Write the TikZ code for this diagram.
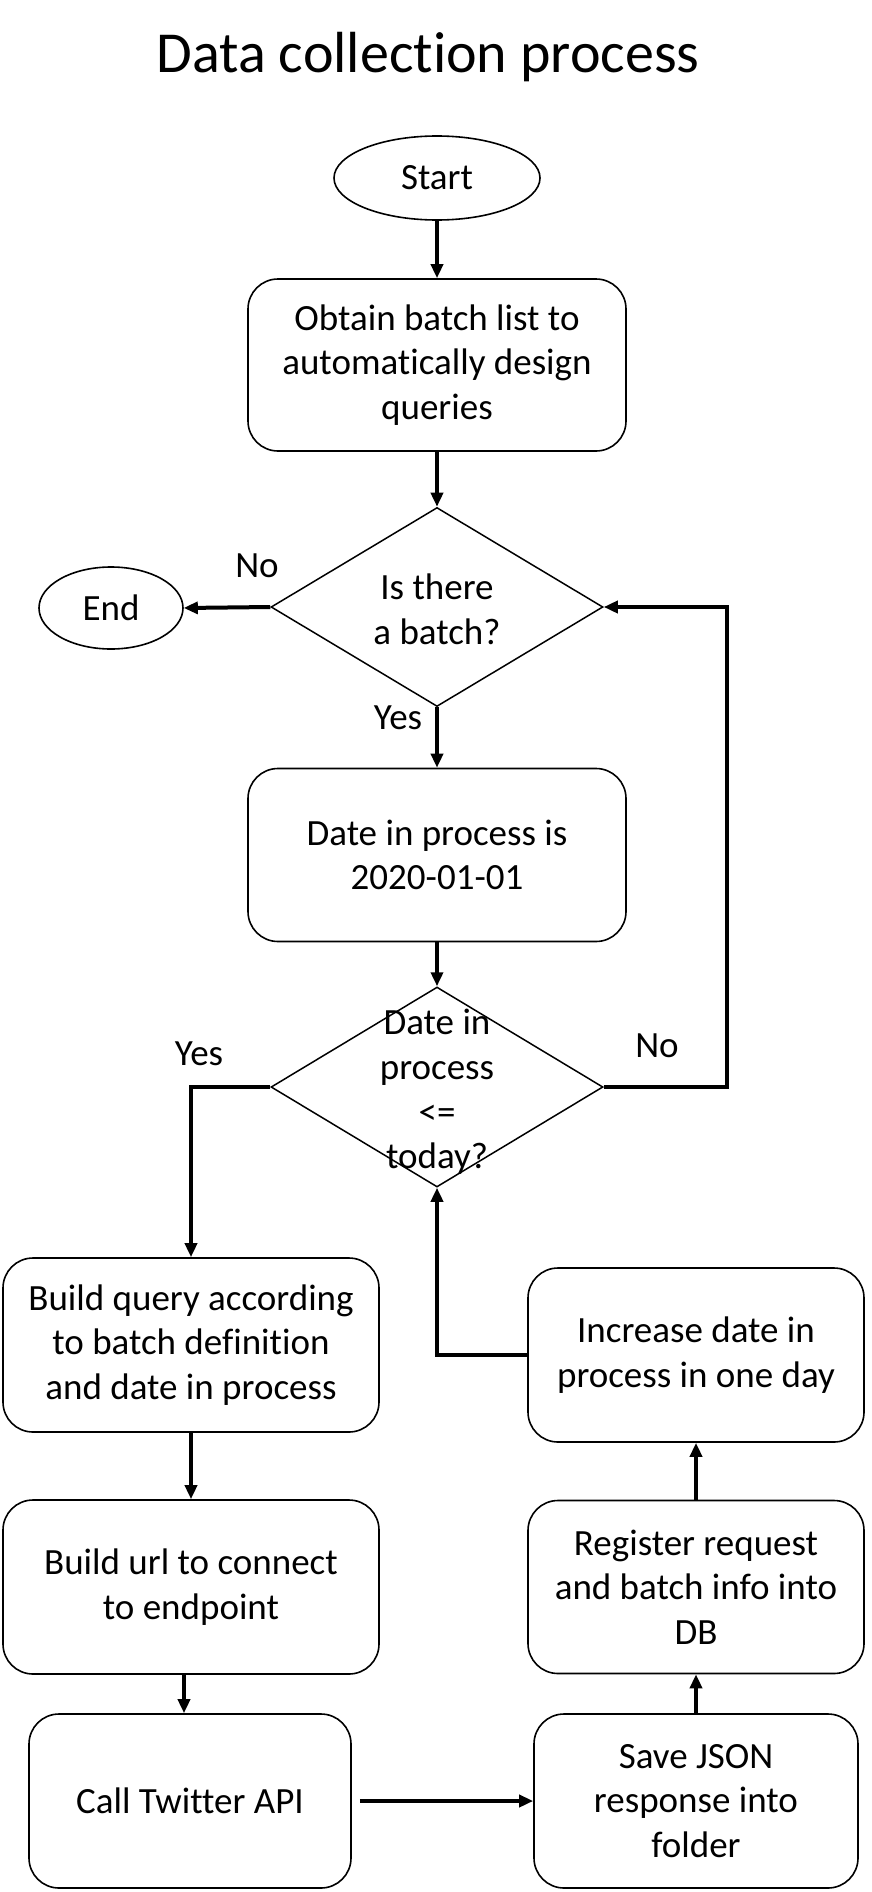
\documentclass[tikz,border=0pt]{standalone}
\usepackage{fontspec}
\setmainfont{Carlito}[Ligatures=NoCommon]
\usetikzlibrary{shapes.geometric,arrows.meta}
\begin{document}
\begin{tikzpicture}[x=1pt,y=-1pt,
  txt/.style={font=\fontsize{37}{44.6}\selectfont, align=center, inner sep=0pt},
  proc/.style={draw, line width=1.6pt, rounded corners=30pt, txt},
  term/.style={draw, ellipse, line width=1.6pt, txt},
  dec/.style={draw, diamond, line width=1.5pt, inner sep=0pt},
  conn/.style={line width=4pt, -{Triangle[length=14pt,width=12pt]}}]
\useasboundingbox (0,0) rectangle (871,1892);
\node[txt, font=\fontsize{58}{70}\selectfont, anchor=base] (title) at (428,73) {Data collection process};
\node[term, minimum width=206pt, minimum height=84pt] (start) at (437,178) {Start};
\node[proc, minimum width=378pt, minimum height=172pt] (obtain) at (437,365) {Obtain batch list to\\automatically design\\queries};
\node[dec, minimum width=332pt, minimum height=199pt] (d1) at (437,607) {};
\node[txt] (d1t) at (437,609) {Is there\\a batch?};
\node[term, minimum width=144pt, minimum height=82pt] (end) at (111,608) {End};
\node[proc, minimum width=378pt, minimum height=173pt] (date) at (437,855) {Date in process is\\2020-01-01};
\node[dec, minimum width=332pt, minimum height=200pt] (d2) at (437,1087) {};
\node[txt] (d2t) at (437,1092) {Date in\\process\\<=\\today?};
\node[proc, minimum width=376pt, minimum height=174pt] (query) at (191,1345) {Build query according\\to batch definition\\and date in process};
\node[proc, minimum width=376pt, minimum height=174pt] (url) at (191,1587) {Build url to connect\\to endpoint};
\node[proc, minimum width=322pt, minimum height=174pt] (call) at (190,1801) {Call Twitter API};
\node[proc, minimum width=324pt, minimum height=174pt] (save) at (696,1801) {Save JSON\\response into\\folder};
\node[proc, minimum width=336pt, minimum height=173pt] (reg) at (696,1587) {Register request\\and batch info into\\DB};
\node[proc, minimum width=336pt, minimum height=174pt] (inc) at (696,1355) {Increase date in\\process in one day};
\node[txt] (no1) at (257,566) {No};
\node[txt] (yes1) at (398,718) {Yes};
\node[txt] (yes2) at (199,1054) {Yes};
\node[txt] (no2) at (657,1046) {No};
\coordinate (rx) at (727,0);
\draw[conn] (start) -- (obtain);
\draw[conn] (obtain) -- (d1);
\draw[conn] (d1.west) -- (end.east);
\draw[conn] (d1) -- (date);
\draw[conn] (date) -- (d2);
\draw[conn] (d2.east) -- (d2.east -| rx) |- (d1.east);
\draw[conn] (d2.west) -| (query.north);
\draw[conn] (query) -- (url);
\draw[conn] ([xshift=-7pt]url.south) -- ([xshift=-7pt]url.south |- call.north);
\draw[conn, shorten <=8pt] (call) -- (save);
\draw[conn] (save) -- (reg);
\draw[conn] (reg) -- (inc);
\draw[conn] (inc.west) -| (d2.south);
\end{tikzpicture}
\end{document}
